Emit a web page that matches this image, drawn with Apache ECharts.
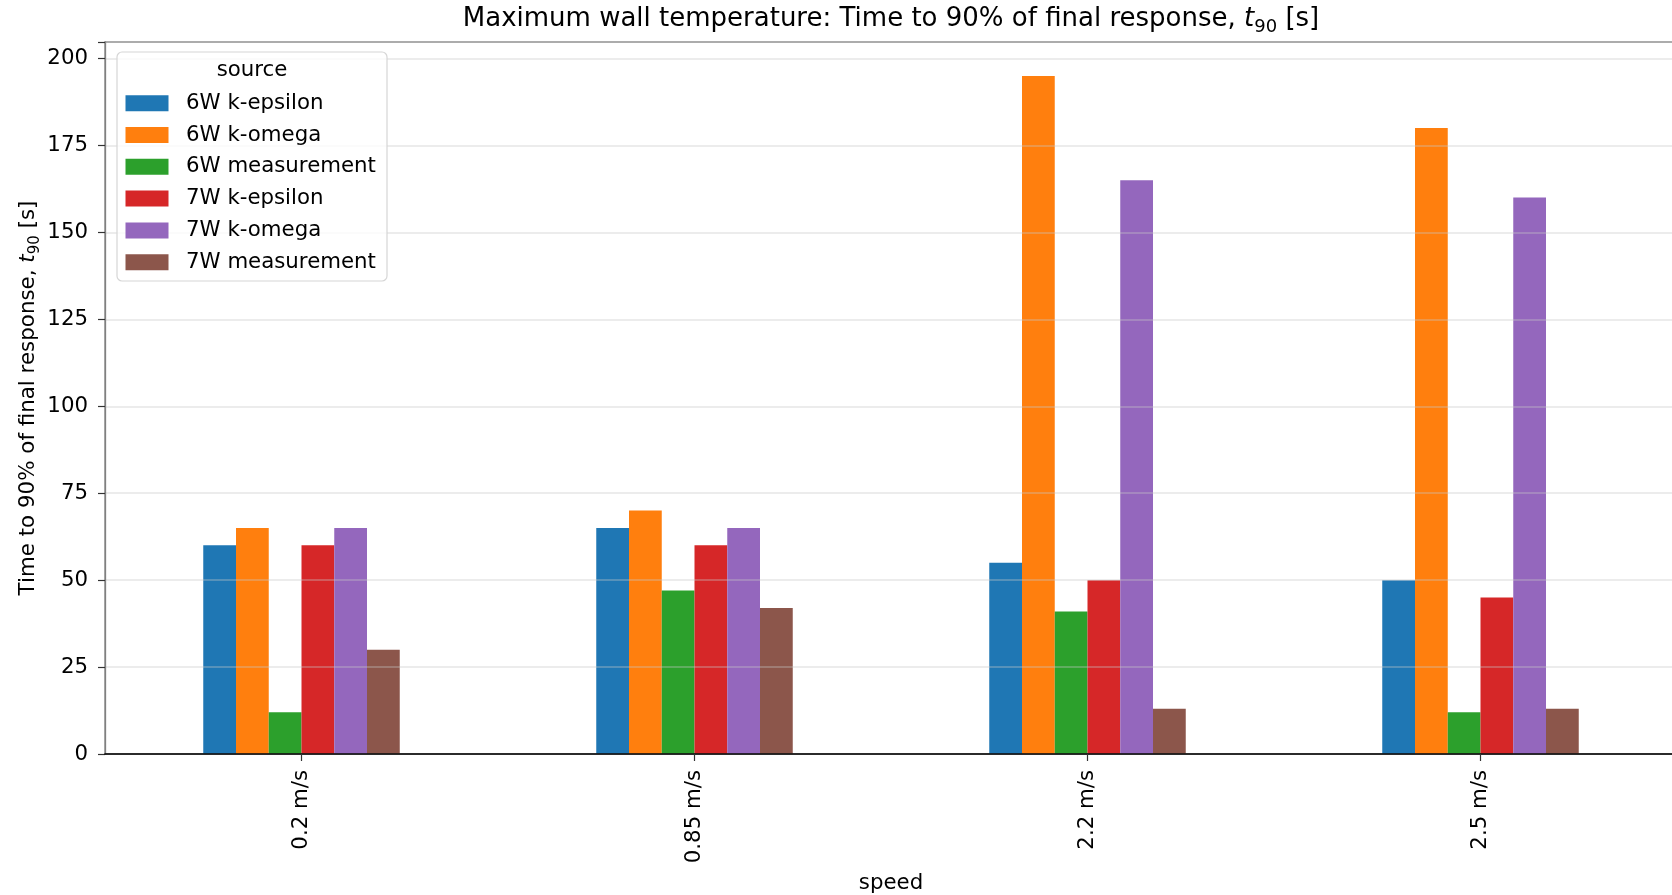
<!DOCTYPE html>
<html>
<head>
<meta charset="utf-8">
<script src="https://cdn.jsdelivr.net/npm/echarts@6/dist/echarts.min.js"></script>
<style>
html,body{margin:0;padding:0;background:#fff;}
#chart{width:1672px;height:895px;}
</style>
</head>
<body>
<div id="chart"></div>
<script>
const categories = ['0.2 m/s', '0.85 m/s', '2.2 m/s', '2.5 m/s'];
const seriesNames = ['6W k-epsilon', '6W k-omega', '6W measurement', '7W k-epsilon', '7W k-omega', '7W measurement'];
const kEps6W = [60, 65, 55, 50];
const kOmega6W = [65, 70, 195, 180];
const meas6W = [12, 47, 41, 12];
const kEps7W = [60, 60, 50, 45];
const kOmega7W = [65, 65, 165, 160];
const meas7W = [30, 42, 13, 13];
const yTicks = [0, 25, 50, 75, 100, 125, 150, 175, 200];

const seriesData = [kEps6W, kOmega6W, meas6W, kEps7W, kOmega7W, meas7W];
const colors = ['#1f77b4', '#ff7f0e', '#2ca02c', '#d62728', '#9467bd', '#8c564b'];
const FONT = 'DejaVu Sans';
const FS = 21.3;

const chart = echarts.init(document.getElementById('chart'), null, {renderer: 'canvas'});

const option = {
  backgroundColor: '#ffffff',
  animation: false,
  color: colors,
  textStyle: {fontFamily: FONT},
  title: {
    text: '{n|Maximum wall temperature: Time to 90% of final response, }{i|t}{s|90}{n| [s]}',
    left: 891, top: 2, textAlign: 'center', padding: 0,
    textStyle: {
      fontWeight: 'normal',
      rich: {
        n: {fontFamily: FONT, fontSize: 26, fontWeight: 'normal', color: '#000', lineHeight: 30, verticalAlign: 'bottom'},
        i: {fontFamily: FONT, fontSize: 26, fontWeight: 'normal', color: '#000', fontStyle: 'italic', lineHeight: 30, verticalAlign: 'bottom'},
        s: {fontFamily: FONT, fontSize: 18, fontWeight: 'normal', color: '#000', lineHeight: 22, verticalAlign: 'bottom', padding: [0, 0, -4, 0]}
      }
    }
  },
  grid: {
    left: 105, top: 42, width: 1572, height: 712,
    outerBoundsMode: 'none',
    containLabel: false,
    show: true, borderColor: '#808080', borderWidth: 1.3, backgroundColor: 'transparent'
  },
  legend: {
    orient: 'vertical',
    left: 125.5, top: 92.7,
    padding: 0,
    icon: 'rect',
    itemWidth: 43, itemHeight: 16,
    itemGap: 10.8,
    data: seriesNames,
    textStyle: {fontFamily: FONT, fontSize: FS, color: '#000', lineHeight: 20, padding: [0, 0, 0, 12.5]}
  },
  graphic: [
    {type: 'rect', z: 4, shape: {x: 117, y: 52, width: 270, height: 229, r: 5},
     style: {fill: 'rgba(255,255,255,0.8)', stroke: '#d6d6d6', lineWidth: 1.2}},
    {type: 'text', z: 5, style: {x: 252, y: 70, text: 'source', fontFamily: FONT, fontSize: FS, fill: '#000', textAlign: 'center', textVerticalAlign: 'middle'}}
  ],
  xAxis: {
    type: 'category',
    data: categories,
    name: 'speed',
    nameLocation: 'middle',
    nameGap: 119,
    nameMoveOverlap: false,
    nameTextStyle: {fontFamily: FONT, fontSize: FS, color: '#000'},
    axisLine: {show: true, lineStyle: {color: '#000', width: 1.6}},
    axisTick: {show: true, alignWithLabel: true, length: 7, lineStyle: {color: '#333', width: 1.2}},
    axisLabel: {rotate: 90, margin: 16, fontFamily: FONT, fontSize: FS, color: '#000'},
    splitLine: {show: false},
    z: 5
  },
  yAxis: {
    type: 'value',
    min: 0, max: 204.75, interval: 25,
    name: '{n|Time to 90% of final response, }{i|t}{s|90}{n| [s]}',
    nameLocation: 'middle',
    nameRotate: 90,
    nameGap: 66,
    nameMoveOverlap: false,
    nameTextStyle: {
      rich: {
        n: {fontFamily: FONT, fontSize: 21.4, color: '#000', lineHeight: 25, verticalAlign: 'bottom'},
        i: {fontFamily: FONT, fontSize: 21.4, color: '#000', fontStyle: 'italic', lineHeight: 25, verticalAlign: 'bottom'},
        s: {fontFamily: FONT, fontSize: 15, color: '#000', lineHeight: 19, verticalAlign: 'bottom', padding: [0, 0, -4, 0]}
      }
    },
    axisLine: {show: true, lineStyle: {color: '#808080', width: 1.3}},
    axisTick: {show: true, length: 7, lineStyle: {color: '#333', width: 1.2}},
    axisLabel: {
      margin: 17, fontFamily: FONT, fontSize: FS, color: '#000',
      formatter: function (v) { return yTicks.indexOf(v) >= 0 ? String(v) : ''; }
    },
    splitLine: {show: true, lineStyle: {color: 'rgba(200,200,200,0.45)', width: 1.5}},
    z: 3
  },
  series: seriesNames.map(function (name, i) {
    return {
      name: name,
      type: 'bar',
      data: seriesData[i],
      barGap: '0%',
      barCategoryGap: '50%',
      itemStyle: {color: colors[i]},
      z: 2
    };
  })
};

chart.setOption(option);
</script>
</body>
</html>
